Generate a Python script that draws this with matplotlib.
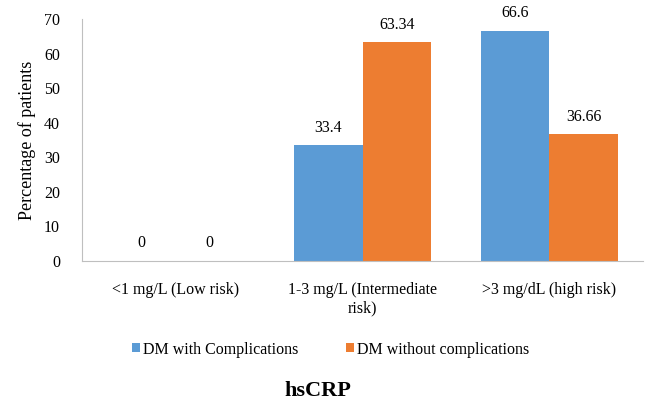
import numpy as np
import matplotlib
matplotlib.use("Agg")
import matplotlib.pyplot as plt

categories = ["<1 mg/L (Low risk)", "1-3 mg/L (Intermediate\nrisk)", ">3 mg/dL (high risk)"]
with_comp = [0, 33.4, 66.6]
without_comp = [0, 63.34, 36.66]
series_names = ["DM with Complications", "DM without complications"]

plt.rcParams['font.family'] = ['Liberation Serif', 'DejaVu Serif']

fig = plt.figure(figsize=(6.48, 4.05), dpi=100)
ax = fig.add_axes([0.127, 0.356, 0.865, 0.597])

x = np.arange(len(categories))
w = 0.365
b1 = ax.bar(x - w/2, with_comp, w, color='#5B9BD5', label=series_names[0])
b2 = ax.bar(x + w/2, without_comp, w, color='#ED7D31', label=series_names[1])

for bars, vals in [(b1, with_comp), (b2, without_comp)]:
    for r, v in zip(bars, vals):
        ax.text(r.get_x() + r.get_width()/2, v + 2.7, f"{v:g}", ha='center', va='bottom', fontsize=11.5)

ax.set_xlim(-0.5, 2.5)
ax.set_ylim(0, 70)
ax.set_yticks(range(0, 71, 10))
ax.set_xticks(x)
ax.set_xticklabels(categories, fontsize=11.5, va='top', linespacing=1.25)
ax.tick_params(axis='both', length=0, labelsize=11.5)
ax.tick_params(axis='x', pad=15)
ax.tick_params(axis='y', pad=16)
for s in ['top', 'right']:
    ax.spines[s].set_visible(False)
for s in ['left', 'bottom']:
    ax.spines[s].set_color('#BFBFBF')
ax.set_ylabel("Percentage of patients", fontsize=13, labelpad=6)

fig.legend(handles=[b1, b2], loc='center', bbox_to_anchor=(0.51, 0.137), ncol=2,
           frameon=False, fontsize=11.5, handlelength=0.5, handleheight=0.5,
           handletextpad=0.2, columnspacing=3.0)
fig.text(0.49, 0.035, "hsCRP", ha='center', va='center', fontsize=16, fontweight='bold')

fig.savefig("out.png", dpi=100)
